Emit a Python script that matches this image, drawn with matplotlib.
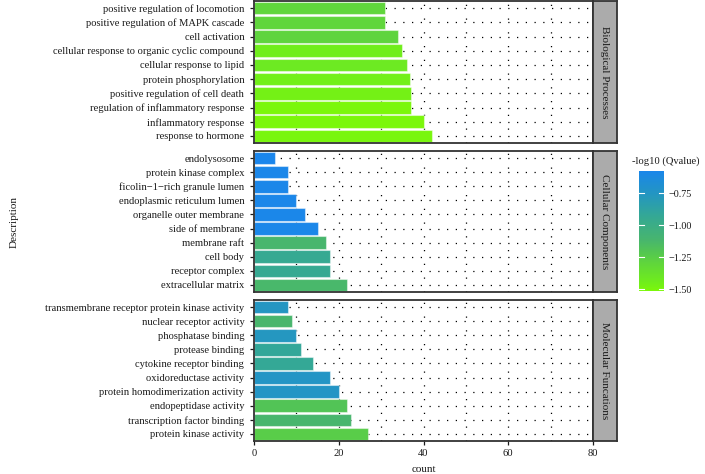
import numpy as np
import matplotlib
matplotlib.use("Agg")
import matplotlib.pyplot as plt
from matplotlib.colors import LinearSegmentedColormap, Normalize

# ---------------- data ----------------
bp_terms = ["positive regulation of locomotion", "positive regulation of MAPK cascade",
            "cell activation", "cellular response to organic cyclic compound",
            "cellular response to lipid", "protein phosphorylation",
            "positive regulation of cell death", "regulation of inflammatory response",
            "inflammatory response", "response to hormone"]
bp_counts = [31, 31, 34, 35, 36, 36.7, 37, 37, 40, 42]
bp_q = [-1.30, -1.30, -1.29, -1.45, -1.42, -1.46, -1.47, -1.51, -1.51, -1.50]

cc_terms = ["endolysosome", "protein kinase complex", "ficolin\u22121\u2212rich granule lumen",
            "endoplasmic reticulum lumen", "organelle outer membrane", "side of membrane",
            "membrane raft", "cell body", "receptor complex", "extracellular matrix"]
cc_counts = [5, 8, 8, 10, 12, 15, 17, 18, 18, 22]
cc_q = [-0.58, -0.59, -0.59, -0.59, -0.59, -0.59, -1.12, -0.95, -0.95, -1.13]

mf_terms = ["transmembrane receptor protein kinase activity", "nuclear receptor activity",
            "phosphatase binding", "protease binding", "cytokine receptor binding",
            "oxidoreductase activity", "protein homodimerization activity",
            "endopeptidase activity", "transcription factor binding", "protein kinase activity"]
mf_counts = [8, 9, 10, 11, 14, 18, 20, 22, 23, 27]
mf_q = [-0.76, -1.12, -0.77, -0.92, -0.93, -0.75, -0.75, -1.20, -1.12, -1.25]

strip_labels = ["Biological Processes", "Cellular Components", "Molecular Funcations"]
x_ticks = [0, 20, 40, 60, 80]
cb_ticks = [-1.50, -1.25, -1.00, -0.75]

# ---------------- colour scale ----------------
vmin, vmax = -1.515, -0.578
norm = Normalize(vmin=vmin, vmax=vmax)
stops = [(-1.515, "#7cf80a"), (-1.45, "#70ee1c"), (-1.30, "#60d63c"), (-1.20, "#52c456"),
         (-1.12, "#48b66e"), (-0.93, "#34a896"), (-0.76, "#2496c2"), (-0.578, "#1a86ec")]
cmap = LinearSegmentedColormap.from_list(
    "q", [((v - vmin) / (vmax - vmin), c) for v, c in stops])

# ---------------- layout ----------------
W, H = 705, 474
plt.rcParams['font.family'] = ['Liberation Serif', 'DejaVu Serif']
fig = plt.figure(figsize=(W / 100, H / 100), dpi=100)

def rect(x0, y0, x1, y1):
    return [x0 / W, 1 - y1 / H, (x1 - x0) / W, (y1 - y0) / H]

panel_y = [(1, 143), (151, 292), (300, 441)]
px0, px1, sx1 = 254, 593, 617
txt_col = '#1a1a1a'
edge_col = '#333333'
fs = 7.6

groups = [(bp_terms, bp_counts, bp_q), (cc_terms, cc_counts, cc_q), (mf_terms, mf_counts, mf_q)]
for i, ((terms, counts, q), (y0, y1)) in enumerate(zip(groups, panel_y)):
    ax = fig.add_axes(rect(px0, y0, px1, y1))
    n = len(terms)
    ypos = np.arange(n)
    for gx in range(10, 80, 10):
        ax.axvline(gx, color='black', lw=0.9, ls=(0, (1, 10)), zorder=0)
    for gy in ypos:
        ax.axhline(gy, color='black', lw=0.9, ls=(0, (1, 6)), zorder=0)
    ax.barh(ypos, counts, height=0.9, color=cmap(norm(np.array(q))),
            edgecolor=(1, 1, 1, 0.45), linewidth=0.8, zorder=2)
    ax.set_xlim(0, 80)
    ax.set_ylim(n - 0.5, -0.5)
    ax.set_yticks(ypos)
    ax.set_yticklabels(terms, fontsize=fs, color=txt_col)
    ax.tick_params(axis='y', length=3, width=0.9, color=txt_col, pad=4)
    if i < 2:
        ax.set_xticks([])
    else:
        ax.set_xticks(x_ticks)
        ax.set_xticklabels([str(v) for v in x_ticks], fontsize=fs, color=txt_col)
        ax.tick_params(axis='x', length=3, width=0.9, color=txt_col, pad=3)
        ax.set_xlabel('count', fontsize=fs + 0.4, color=txt_col, labelpad=5)
    for s in ax.spines.values():
        s.set_color(edge_col)
        s.set_linewidth(1.3)
    ax.set_facecolor('white')
    sax = fig.add_axes(rect(px1, y0, sx1, y1))
    sax.set_xticks([]); sax.set_yticks([])
    sax.set_facecolor('#ababab')
    for s in sax.spines.values():
        s.set_color(edge_col)
        s.set_linewidth(1.3)
    sax.text(0.5, 0.5, strip_labels[i], rotation=-90, ha='center', va='center',
             fontsize=fs + 0.4, color=txt_col, transform=sax.transAxes)

fig.text(14 / W, 1 - 222 / H, 'Description', rotation=90, ha='center', va='center',
         fontsize=fs + 0.4, color=txt_col)

# ---------------- colorbar ----------------
cax = fig.add_axes(rect(639, 171, 664, 291))
grad = np.linspace(vmin, vmax, 256).reshape(-1, 1)
cax.imshow(grad, aspect='auto', cmap=cmap, norm=norm, origin='lower',
           extent=[0, 1, vmin, vmax])
cax.set_xlim(0, 1)
cax.set_ylim(vmin, vmax)
cax.set_xticks([])
cax.yaxis.tick_right()
cax.set_yticks(cb_ticks)
cax.set_yticklabels(['\u2212%.2f' % abs(v) for v in cb_ticks], fontsize=fs - 0.3, color=txt_col)
cax.tick_params(axis='y', length=0, pad=3)
for v in cb_ticks:
    cax.plot([0, 0.2], [v, v], color='white', lw=0.8)
    cax.plot([0.8, 1], [v, v], color='white', lw=0.8)
for s in cax.spines.values():
    s.set_visible(False)
fig.text(632 / W, 1 - 161 / H, '-log10 (Qvalue)', ha='left', va='center',
         fontsize=fs, color=txt_col)

fig.savefig('out.png', dpi=100, facecolor='white')
